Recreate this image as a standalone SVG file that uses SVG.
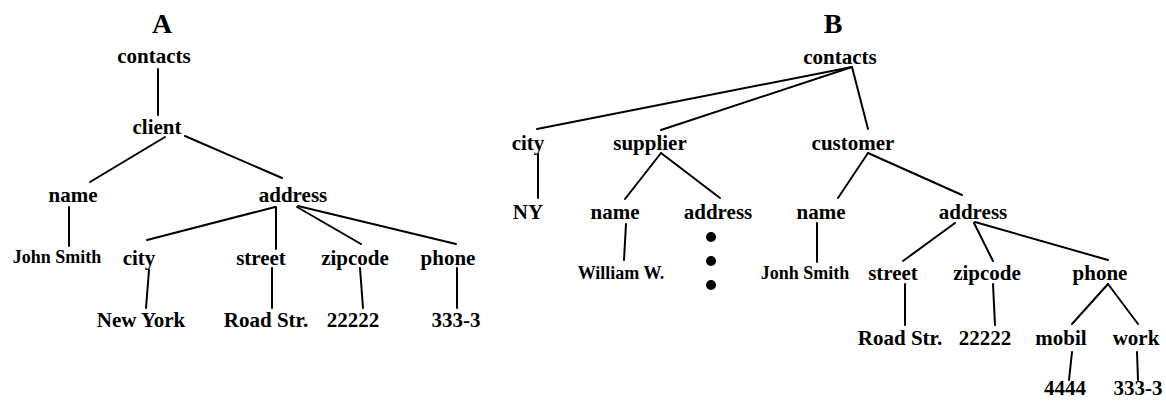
<svg xmlns="http://www.w3.org/2000/svg" width="1166" height="401" viewBox="0 0 1166 401">
<style>
text{font-family:"Liberation Serif","Times New Roman",serif;font-weight:bold;font-size:21px;text-anchor:middle;fill:#000}
.s{font-size:18px}
.t{font-size:28px}
line{stroke:#000;stroke-width:2;stroke-linecap:round}
</style>
<rect width="1166" height="401" fill="#fff"/>
<g id="edges">
<line x1="158" y1="69" x2="158" y2="115"/>
<line x1="165" y1="137" x2="90" y2="182"/>
<line x1="185" y1="136" x2="282" y2="178"/>
<line x1="69" y1="207" x2="69" y2="246"/>
<line x1="275" y1="207" x2="147" y2="240"/>
<line x1="276" y1="207" x2="276" y2="249"/>
<line x1="297" y1="207" x2="361" y2="244"/>
<line x1="298" y1="206" x2="456" y2="244"/>
<line x1="149" y1="270" x2="146" y2="308"/>
<line x1="272" y1="268" x2="272" y2="308"/>
<line x1="360" y1="268" x2="363" y2="308"/>
<line x1="457" y1="268" x2="457" y2="308"/>
<line x1="852" y1="67" x2="537" y2="129"/>
<line x1="852" y1="67" x2="661" y2="130"/>
<line x1="852" y1="67" x2="868" y2="129"/>
<line x1="538" y1="154" x2="538" y2="198"/>
<line x1="661" y1="153" x2="625" y2="199"/>
<line x1="661" y1="153" x2="720" y2="198"/>
<line x1="626" y1="224" x2="624" y2="260"/>
<line x1="868" y1="153" x2="838" y2="198"/>
<line x1="868" y1="153" x2="962" y2="195"/>
<line x1="817" y1="223" x2="817" y2="262"/>
<line x1="955" y1="223" x2="903" y2="261"/>
<line x1="974" y1="223" x2="993" y2="261"/>
<line x1="975" y1="222" x2="1108" y2="260"/>
<line x1="905" y1="284" x2="905" y2="325"/>
<line x1="993" y1="284" x2="995" y2="325"/>
<line x1="1108" y1="284" x2="1072" y2="324"/>
<line x1="1108" y1="284" x2="1138" y2="324"/>
<line x1="1072" y1="352" x2="1069" y2="380"/>
<line x1="1137" y1="352" x2="1138" y2="380"/>
</g>
<g id="titles">
<text class="t" x="162" y="33">A</text>
<text class="t" x="833" y="33">B</text>
</g>
<g id="treeA">
<g id="a-contacts"><text x="154" y="63">contacts</text></g>
<g id="a-client"><text x="157" y="134">client</text></g>
<g id="a-name"><text x="73" y="202">name</text></g>
<g id="a-address"><text x="293" y="202">address</text></g>
<g id="a-johnsmith"><text class="s" x="57" y="263">John Smith</text></g>
<g id="a-city"><text x="139" y="265">city</text></g>
<g id="a-street"><text x="261" y="265">street</text></g>
<g id="a-zipcode"><text x="355" y="265">zipcode</text></g>
<g id="a-phone"><text x="448" y="265">phone</text></g>
<g id="a-newyork"><text x="141" y="327">New York</text></g>
<g id="a-roadstr"><text x="266" y="327">Road Str.</text></g>
<g id="a-zip"><text x="353" y="327">22222</text></g>
<g id="a-phonenum"><text x="456" y="327">333-3</text></g>
</g>
<g id="treeB">
<g id="b-contacts"><text x="840" y="64">contacts</text></g>
<g id="b-city"><text x="528" y="150">city</text></g>
<g id="b-supplier"><text x="650" y="150">supplier</text></g>
<g id="b-customer"><text x="853" y="150">customer</text></g>
<g id="b-ny"><text x="528" y="219">NY</text></g>
<g id="b-sname"><text x="615" y="219">name</text></g>
<g id="b-saddress"><text x="718" y="219">address</text></g>
<g id="b-william"><text class="s" x="621" y="279">William W.</text></g>
<g id="b-dots"><circle cx="711" cy="237" r="5"/><circle cx="711" cy="261" r="5"/><circle cx="711" cy="285" r="5"/></g>
<g id="b-cname"><text x="821" y="219">name</text></g>
<g id="b-caddress"><text x="973" y="219">address</text></g>
<g id="b-jonh"><text class="s" x="805" y="279">Jonh Smith</text></g>
<g id="b-street"><text x="893" y="280">street</text></g>
<g id="b-zipcode"><text x="987" y="280">zipcode</text></g>
<g id="b-phone"><text x="1100" y="280">phone</text></g>
<g id="b-roadstr"><text x="900" y="345">Road Str.</text></g>
<g id="b-zip"><text x="985" y="345">22222</text></g>
<g id="b-mobil"><text x="1061" y="345">mobil</text></g>
<g id="b-work"><text x="1136" y="345">work</text></g>
<g id="b-4444"><text x="1065" y="395">4444</text></g>
<g id="b-3333"><text x="1138" y="395">333-3</text></g>
</g>
</svg>
